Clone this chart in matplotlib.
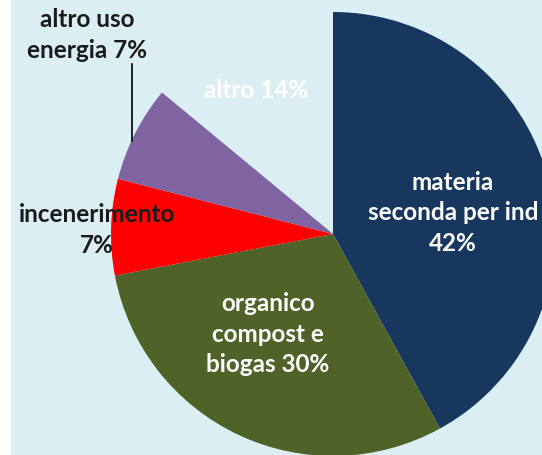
import matplotlib.pyplot as plt

# destinazione dei materiali raccolti
labels = ['materia\nseconda per ind\n42%', 'organico\ncompost e\nbiogas 30%',
          'incenerimento\n7%', 'altro uso\nenergia 7%', 'altro 14%']
values = [42, 30, 7, 7, 14]
colors = ['#17375e', '#4f6228', '#ff0000', '#8064a2', 'none']
text_colors = ['white', 'white', '#1a1a1a', '#1a1a1a', 'white']

# label positions in pixels (x from left, y from top)
label_pos = [(453, 213), (268, 334), (97, 230), (87, 35), (256, 90)]

W, H = 542, 456
bg = '#daeef3'

fig = plt.figure(figsize=(W / 100, H / 100), dpi=100)
fig.patch.set_facecolor('white')
ax = fig.add_axes([11 / W, 0, (W - 11) / W, 1])
ax.set_facecolor(bg)

cx, cy, r = 333, H - 235, 222
ax.pie(values, colors=colors, startangle=90, counterclock=False,
       center=(cx, cy), radius=r, wedgeprops=dict(linewidth=0), frame=True)

ax.set_xlim(11, W)
ax.set_ylim(0, H)
ax.set_aspect('equal')
for s in ax.spines.values():
    s.set_visible(False)
ax.set_xticks([])
ax.set_yticks([])

for lab, (px, py), tc in zip(labels, label_pos, text_colors):
    ax.text(px, H - py, lab, ha='center', va='center', color=tc,
            fontsize=17.5, fontweight='bold', family='Lato', linespacing=1.4)

# leader line for "altro uso energia"
ax.plot([132, 132], [H - 65, H - 142], color='black', lw=1.2)

fig.savefig('out.png', dpi=100, facecolor=fig.get_facecolor())
